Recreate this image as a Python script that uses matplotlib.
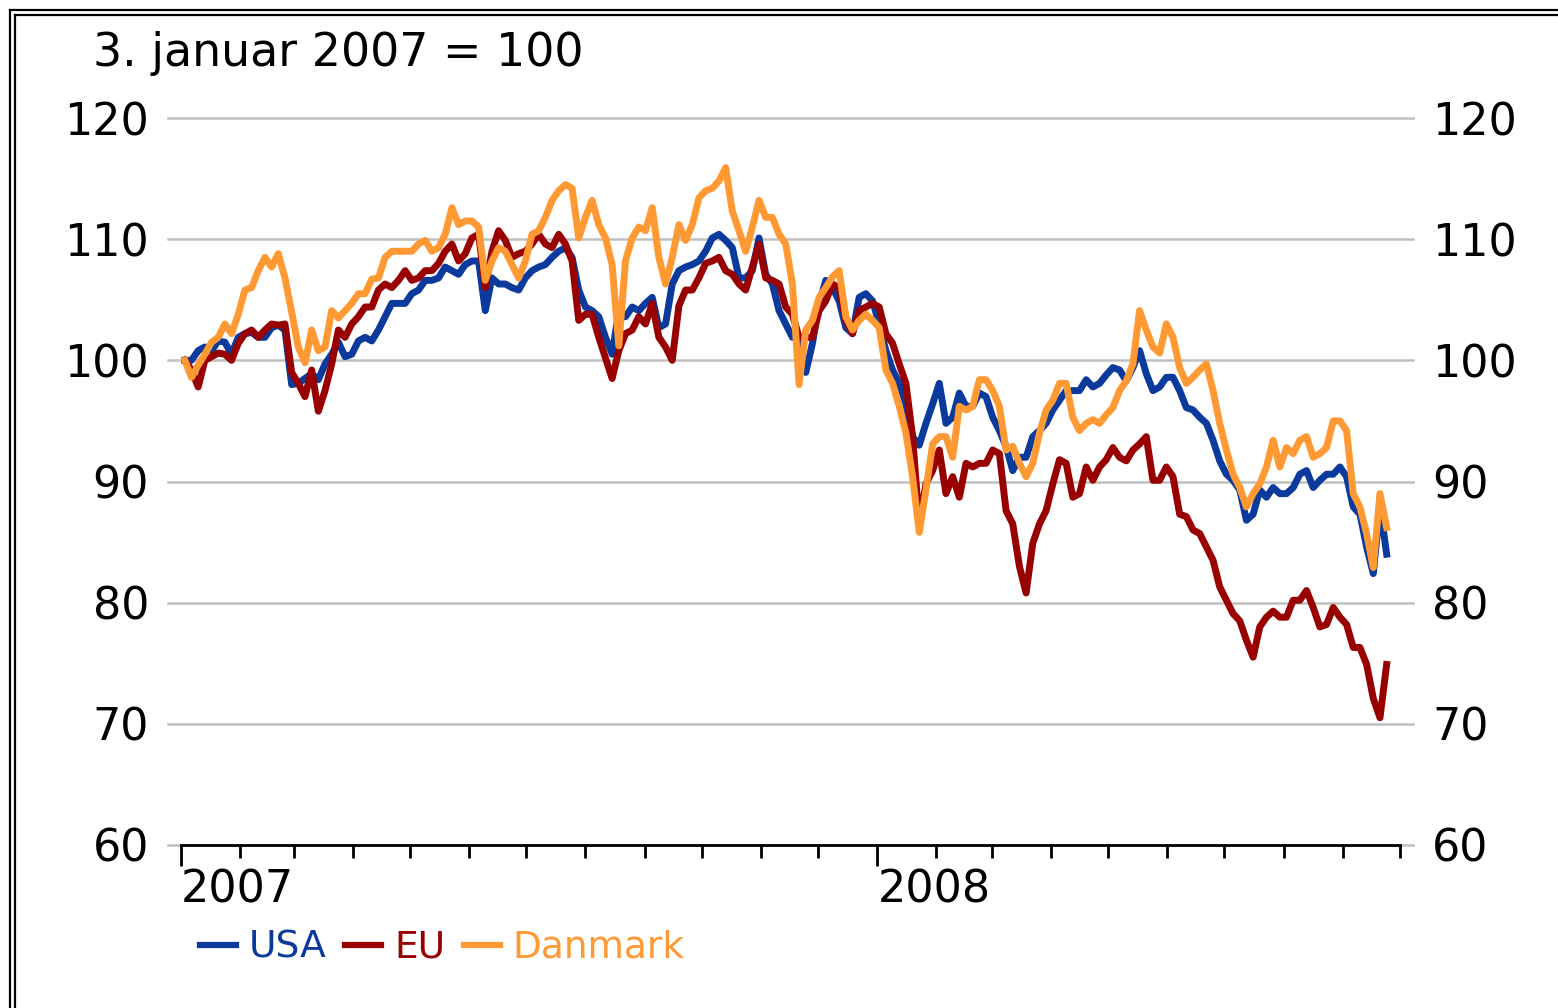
import numpy as np
import pandas as pd
import matplotlib
matplotlib.use('Agg')
import matplotlib.pyplot as plt
import matplotlib.dates as mdates
from matplotlib.lines import Line2D

# Readings twice a week (Wednesday and half a week later), 3 Jan 2007 = 100
dates = pd.date_range('2007-01-03', periods=181, freq='84h')

# values on the Wednesdays
usa_wed = [100.0, 100.8, 100.8, 101.5, 101.9, 102.3, 101.9, 102.9, 98.0, 98.5,
           98.4, 100.5, 100.3, 101.6, 101.6, 103.6, 104.7, 105.5, 106.6, 106.8,
           107.4, 107.9, 108.2, 106.8, 106.3, 105.8, 107.4, 107.9, 109.0, 108.5,
           104.4, 103.6, 100.5, 103.6, 104.1, 105.2, 103.0, 107.4, 107.9, 109.0,
           110.4, 109.3, 106.8, 110.1, 106.3, 103.0, 101.9, 101.4, 106.6, 104.9,
           102.2, 105.5, 103.0, 99.2, 96.4, 93.0, 96.4, 94.8, 97.3, 96.2,
           97.0, 94.2, 90.9, 92.0, 94.2, 95.9, 97.5, 97.5, 97.8, 98.8,
           99.2, 99.4, 98.9, 97.8, 98.6, 96.1, 95.3, 93.4, 90.6, 89.3,
           87.3, 88.7, 89.0, 89.5, 90.9, 90.1, 90.6, 90.4, 87.3, 82.4,
           84.0]
# values half a week later
usa_mid = [100.0, 101.1, 101.6, 100.5, 102.2, 101.9, 102.7, 102.5, 98.1, 98.9,
           99.7, 101.5, 100.5, 101.9, 102.5, 104.7, 104.7, 105.8, 106.6, 107.7,
           107.1, 108.2, 104.1, 106.3, 106.0, 106.8, 107.7, 108.5, 109.3, 105.8,
           104.1, 101.9, 104.1, 104.4, 104.7, 102.7, 106.3, 107.7, 108.2, 110.1,
           109.9, 106.8, 107.4, 107.1, 104.1, 101.9, 99.0, 104.7, 106.0, 102.7,
           105.2, 104.9, 100.8, 98.1, 93.7, 94.8, 98.1, 95.3, 96.2, 97.3,
           95.3, 92.9, 92.0, 93.7, 94.8, 96.7, 97.5, 98.4, 98.1, 99.4,
           98.3, 100.8, 97.5, 98.6, 97.5, 95.9, 94.8, 91.7, 90.1, 86.8,
           89.3, 89.5, 89.0, 90.6, 89.5, 90.6, 91.2, 87.9, 84.6, 88.0]

eu_wed = [100.0, 97.8, 100.3, 100.5, 101.4, 102.5, 102.5, 102.9, 99.0, 97.0,
          95.8, 99.7, 101.9, 103.6, 104.4, 106.3, 106.6, 106.6, 107.4, 108.0,
          109.6, 108.8, 110.4, 109.0, 109.9, 108.8, 109.6, 109.6, 110.4, 108.2,
          103.8, 101.9, 98.5, 102.2, 103.6, 104.7, 101.1, 104.5, 105.8, 108.0,
          108.5, 107.1, 105.8, 109.6, 106.6, 104.4, 101.9, 101.9, 104.9, 106.0,
          102.2, 104.4, 104.4, 101.4, 98.1, 86.5, 90.9, 89.0, 88.7, 91.2,
          91.5, 92.3, 86.5, 80.8, 86.5, 89.8, 91.5, 89.0, 90.1, 91.8,
          92.0, 92.6, 93.7, 90.1, 90.4, 87.1, 85.7, 83.5, 80.2, 78.5,
          75.5, 78.8, 78.8, 80.2, 81.0, 78.0, 79.6, 78.2, 76.3, 72.1,
          74.9]
eu_mid = [99.2, 100.0, 100.6, 100.0, 102.2, 101.9, 103.0, 103.0, 98.1, 99.2,
          97.5, 102.5, 103.0, 104.4, 105.8, 106.0, 107.4, 106.8, 107.4, 109.0,
          108.2, 110.1, 106.0, 110.7, 108.5, 109.0, 110.4, 109.3, 109.6, 103.3,
          103.8, 100.2, 100.8, 102.5, 103.0, 101.9, 100.0, 105.8, 106.8, 108.2,
          107.4, 106.3, 107.7, 106.8, 106.3, 103.8, 101.9, 104.1, 106.3, 103.3,
          104.1, 104.7, 102.2, 99.7, 93.7, 89.8, 92.6, 90.4, 91.5, 91.5,
          92.6, 87.6, 83.0, 84.9, 87.6, 91.8, 88.7, 91.2, 91.2, 92.8,
          91.7, 93.1, 90.1, 91.2, 87.3, 86.0, 84.6, 81.3, 79.1, 76.9,
          78.0, 79.3, 78.8, 80.2, 79.6, 78.2, 78.8, 76.3, 74.9, 70.5]

danmark_wed = [100.0, 99.6, 101.5, 103.0, 103.8, 106.0, 108.5, 108.8, 104.0, 99.8,
               100.8, 104.1, 104.1, 105.5, 106.7, 108.5, 109.0, 109.0, 109.9, 109.3,
               112.6, 111.5, 111.0, 108.2, 109.0, 106.8, 110.4, 111.8, 114.0, 114.2,
               111.8, 111.2, 107.9, 108.2, 111.0, 112.6, 106.3, 111.2, 111.2, 114.0,
               114.8, 112.3, 109.0, 113.2, 111.8, 109.6, 98.0, 103.3, 106.0, 107.4,
               102.5, 103.8, 102.7, 98.1, 94.0, 85.8, 93.1, 93.7, 96.2, 96.2,
               98.4, 96.2, 92.9, 90.4, 94.0, 96.7, 98.1, 94.2, 95.1, 95.5,
               97.5, 99.7, 102.5, 100.6, 101.9, 98.1, 99.2, 97.5, 92.6, 89.5,
               89.0, 91.2, 91.2, 92.3, 93.7, 92.3, 95.0, 94.2, 87.9, 82.9,
               86.2]
danmark_mid = [98.6, 100.5, 101.9, 102.2, 105.8, 107.4, 107.7, 106.8, 101.1, 102.5,
               101.1, 103.5, 104.7, 105.5, 106.8, 109.0, 109.0, 109.6, 109.0, 110.4,
               111.2, 111.5, 106.6, 109.3, 107.9, 108.2, 110.7, 113.2, 114.5, 110.1,
               113.2, 110.1, 101.2, 110.1, 110.7, 108.5, 108.5, 109.9, 113.4, 114.2,
               115.9, 110.7, 111.0, 111.8, 110.4, 106.3, 102.5, 105.2, 106.9, 103.6,
               103.3, 103.3, 99.2, 96.2, 90.4, 89.3, 93.7, 92.0, 95.9, 98.4,
               97.5, 92.6, 91.5, 91.5, 95.9, 98.1, 95.3, 94.8, 94.8, 96.1,
               98.3, 104.1, 101.1, 103.0, 99.4, 98.6, 99.7, 94.8, 90.6, 87.9,
               89.8, 93.4, 92.8, 93.4, 92.0, 92.8, 95.0, 89.0, 85.7, 89.0]

labels = ['USA', 'EU', 'Danmark']
colors = ['#0a3a9c', '#990000', '#ff9933']
yticks = [60, 70, 80, 90, 100, 110, 120]


def merge(wed, mid):
    out = np.empty(len(wed) + len(mid))
    out[0::2] = wed
    out[1::2] = mid
    return out


series = [merge(usa_wed, usa_mid), merge(eu_wed, eu_mid),
          merge(danmark_wed, danmark_mid)]

W, H = 1558, 1008
fig = plt.figure(figsize=(W / 100, H / 100), dpi=100)
ax = fig.add_axes([181 / W, 1 - 845 / H, (1400 - 181) / W, (845 - 118) / H])

# grid lines reach a bit past the plot area on both sides
for v in yticks:
    ax.axhline(v, xmin=-13 / 1219, xmax=1 + 13 / 1219, color='#c0c0c0',
               lw=1.8, clip_on=False, zorder=1)

for vals, lab, col in zip(series, labels, colors):
    ax.plot(dates, vals, color=col, lw=5, label=lab, zorder=3)

ax.set_xlim(pd.Timestamp('2007-01-01'), pd.Timestamp('2008-10-01'))
ax.set_ylim(60, 120)

for s in ['top', 'left', 'right']:
    ax.spines[s].set_visible(False)
ax.spines['bottom'].set_linewidth(2)
ax.spines['bottom'].set_zorder(4)

ax.xaxis.set_major_locator(mdates.YearLocator())
ax.xaxis.set_major_formatter(mdates.DateFormatter('%Y'))
ax.xaxis.set_minor_locator(mdates.MonthLocator())
ax.tick_params(axis='x', which='major', direction='out', length=15, width=2,
               labelsize=32, pad=2)
ax.tick_params(axis='x', which='minor', direction='out', length=9, width=2)
for t in ax.get_xticklabels():
    t.set_horizontalalignment('left')

ax.set_yticks(yticks)
ax.tick_params(axis='y', which='both', length=0, labelsize=32, pad=23,
               labelleft=True, labelright=True)

fig.text(93 / W, 1 - 66 / H, '3. januar 2007 = 100', fontsize=33,
         va='baseline', ha='left')

leg = fig.legend(loc='center left', bbox_to_anchor=(200 / W, 1 - 948 / H),
                 ncol=3, frameon=False, fontsize=27, handlelength=0.95,
                 handletextpad=0.35, columnspacing=0.5, borderpad=0,
                 borderaxespad=0)
for txt, col in zip(leg.get_texts(), colors):
    txt.set_color(col)
for h in leg.get_lines():
    h.set_linewidth(4.5)

# double frame along the top and left edge
for off in [10, 15]:
    fig.add_artist(Line2D([off / W, 1], [1 - off / H, 1 - off / H],
                          transform=fig.transFigure, color='black', lw=1.6))
    fig.add_artist(Line2D([off / W, off / W], [0, 1 - off / H],
                          transform=fig.transFigure, color='black', lw=1.6))

fig.savefig('out.png', dpi=100)
